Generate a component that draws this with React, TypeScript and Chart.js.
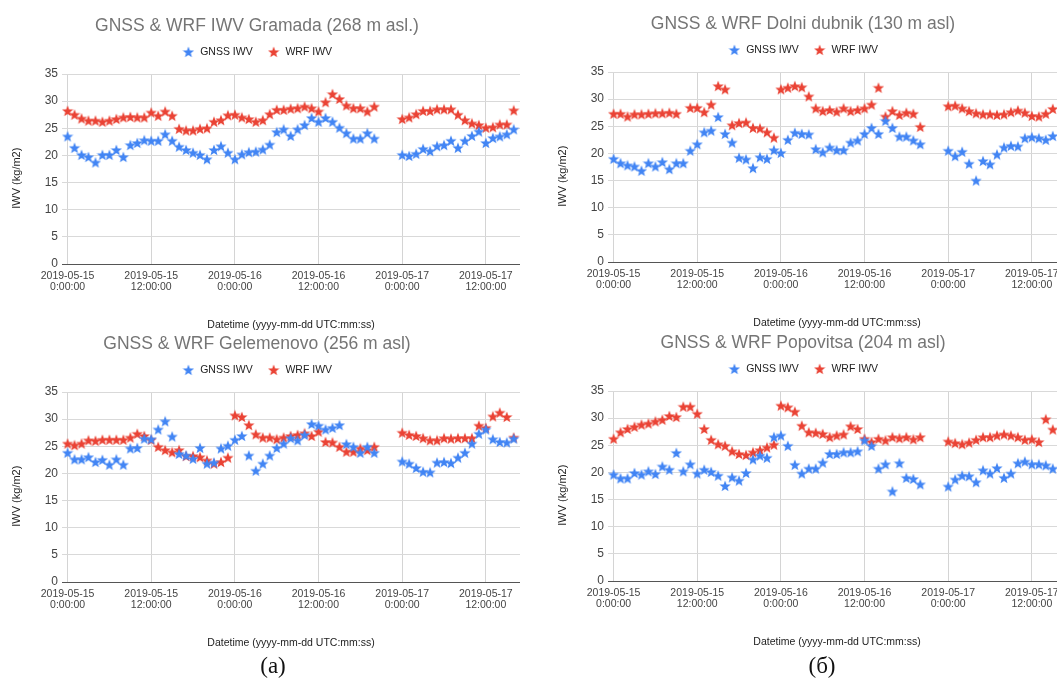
import React, { useEffect, useRef } from "react";
import { Chart, registerables } from "chart.js";

Chart.register(...registerables);

// Hours since 2019-05-15 00:00 UTC
const hours = [
  0, 1, 2, 3, 4, 5, 6, 7, 8, 9, 10, 11, 12, 13, 14, 15, 16, 17, 18, 19, 20, 21, 22, 23, 24, 25, 26, 27, 28, 29, 30, 31,
  32, 33, 34, 35, 36, 37, 38, 39, 40, 41, 42, 43, 44, 45, 46, 47, 48, 49, 50, 51, 52, 53, 54, 55, 56, 57, 58, 59, 60,
  61, 62, 63, 64,
];

const tickHours = [0, 12, 24, 36, 48, 60];
const tickLabels = [
  ["2019-05-15", "0:00:00"],
  ["2019-05-15", "12:00:00"],
  ["2019-05-16", "0:00:00"],
  ["2019-05-16", "12:00:00"],
  ["2019-05-17", "0:00:00"],
  ["2019-05-17", "12:00:00"],
];
const yTicks = [0, 5, 10, 15, 20, 25, 30, 35];

const seriesNames = ["GNSS IWV", "WRF IWV"];
const xTitle = "Datetime (yyyy-mm-dd UTC:mm:ss)";
const yTitle = "IWV (kg/m2)";

// (a) Gramada
const gramadaGnss = [
  23.5, 21.4, 20.1, 19.7, 18.7, 20.1, 20.1, 21.0, 19.7, 21.9,
  22.3, 22.8, 22.7, 22.7, 23.9, 22.7, 21.6, 21.0, 20.5, 20.1,
  19.3, 21.0, 21.7, 20.5, 19.3, 20.2, 20.6, 20.7, 21.1, 22.0,
  24.3, 24.8, 23.6, 24.8, 25.6, 26.9, 26.2, 26.9, 26.2, 25.1,
  24.1, 23.1, 23.1, 24.1, 23.1, null, null, null,
  20.1, 19.9, 20.3, 21.2, 20.8, 21.7, 21.9, 22.7, 21.4, 22.7,
  23.6, 24.4, 22.3, 23.2, 23.5, 23.9, 24.8,
];
const gramadaWrf = [
  28.2, 27.5, 26.8, 26.4, 26.4, 26.2, 26.4, 26.7, 27.0, 27.1,
  27.0, 27.0, 27.9, 27.3, 28.1, 27.3, 24.9, 24.6, 24.6, 24.9,
  25.0, 26.2, 26.5, 27.4, 27.5, 27.0, 26.7, 26.2, 26.5, 27.6,
  28.4, 28.4, 28.6, 28.7, 29.0, 28.7, 28.1, 29.8, 31.3, 30.4,
  29.2, 28.7, 28.7, 28.1, 29.0, null, null, null,
  26.7, 27.0, 27.6, 28.2, 28.2, 28.5, 28.5, 28.5, 27.5, 26.5,
  25.9, 25.6, 25.1, 25.2, 25.7, 25.7, 28.3,
];

// (b) Dolni dubnik
const dubnikGnss = [
  19.0, 18.2, 17.8, 17.6, 16.8, 18.2, 17.6, 18.4, 17.1, 18.2,
  18.2, 20.5, 21.7, 23.9, 24.2, 26.7, 23.6, 22.0, 19.2, 18.9,
  17.3, 19.3, 19.0, 20.6, 20.1, 22.5, 23.8, 23.6, 23.5, 20.8,
  20.2, 21.1, 20.6, 20.6, 22.0, 22.4, 23.6, 24.7, 23.6, 26.0,
  24.7, 23.1, 23.1, 22.4, 21.7, null, null, null,
  20.5, 19.5, 20.3, 18.1, 15.0, 18.6, 18.0, 19.8, 21.1, 21.4,
  21.3, 22.8, 23.0, 22.8, 22.5, 23.2, null,
];
const dubnikWrf = [
  27.3, 27.3, 26.8, 27.2, 27.2, 27.3, 27.4, 27.4, 27.5, 27.3,
  null, 28.4, 28.4, 27.6, 29.0, 32.4, 31.8, 25.2, 25.6, 25.7,
  24.7, 24.6, 23.9, 22.9, 31.8, 32.1, 32.4, 32.2, 30.5, 28.3,
  27.8, 28.0, 27.7, 28.3, 27.8, 28.0, 28.3, 29.0, 32.1, 26.8,
  27.8, 27.1, 27.5, 27.3, 24.9, null, null, null,
  28.7, 28.8, 28.3, 27.8, 27.4, 27.2, 27.2, 27.1, 27.2, 27.6,
  27.9, 27.5, 26.9, 26.8, 27.3, 28.2, null,
];

// (c) Gelemenovo
const gelemenovoGnss = [
  23.8, 22.6, 22.6, 23.0, 22.1, 22.5, 21.6, 22.6, 21.6, 24.6,
  24.7, 26.4, 26.3, 28.1, 29.6, 26.8, 23.6, 23.3, 22.7, 24.7,
  21.8, 22.0, 24.6, 25.1, 26.2, 26.9, 23.3, 20.5, 21.8, 23.3,
  24.7, 25.5, 26.5, 26.1, 27.1, 29.1, 28.8, 28.1, 28.4, 28.9,
  25.4, 24.9, 23.8, 24.9, 23.8, null, null, null,
  22.2, 21.8, 21.0, 20.3, 20.2, 22.0, 22.1, 21.9, 22.9, 23.8,
  25.5, 27.3, 28.1, 26.3, 25.8, 25.7, 26.4,
];
const gelemenovoWrf = [
  25.5, 25.2, 25.5, 26.1, 26.0, 26.2, 26.2, 26.2, 26.2, 26.6,
  27.3, 26.9, 26.2, 24.9, 24.3, 23.9, 24.3, 23.2, 23.2, 23.0,
  22.4, 21.8, 22.1, 22.9, 30.7, 30.4, 28.9, 27.2, 26.6, 26.6,
  26.3, 26.6, 26.9, 27.1, 27.4, 26.9, 27.7, 25.8, 25.7, 24.9,
  24.0, 24.0, 24.6, 24.3, 24.9, null, null, null,
  27.5, 27.1, 26.9, 26.5, 26.1, 26.1, 26.5, 26.4, 26.5, 26.5,
  26.5, 28.8, 28.4, 30.5, 31.2, 30.4, 26.6,
];

// (d) Popovitsa
const popovitsaGnss = [
  19.6, 18.9, 18.9, 19.9, 19.6, 20.2, 19.7, 21.1, 20.5, 23.6,
  20.2, 21.5, 19.8, 20.5, 20.1, 19.4, 17.5, 19.1, 18.5, 19.9,
  22.4, 23.1, 22.7, 26.5, 26.8, 24.9, 21.4, 19.8, 20.7, 20.7,
  21.8, 23.4, 23.4, 23.7, 23.7, 23.9, 25.9, 24.9, 20.7, 21.5,
  16.5, 21.7, 19.0, 18.8, 17.8, null, null, null,
  17.4, 18.7, 19.4, 19.3, 18.2, 20.4, 19.8, 20.8, 19.0, 19.8,
  21.7, 22.0, 21.5, 21.5, 21.3, 20.7, null,
];
const popovitsaWrf = [
  26.2, 27.4, 28.0, 28.4, 28.8, 29.0, 29.4, 29.7, 30.4, 30.2,
  32.1, 32.1, 30.8, 28.0, 26.0, 25.2, 24.9, 23.9, 23.4, 23.2,
  23.7, 24.1, 24.6, 25.1, 32.3, 32.0, 31.2, 28.6, 27.4, 27.3,
  27.1, 26.5, 26.8, 27.0, 28.5, 28.0, 26.2, 25.6, 26.2, 25.9,
  26.5, 26.3, 26.5, 26.1, 26.5, null, null, null,
  25.7, 25.4, 25.2, 25.5, 26.0, 26.5, 26.5, 26.8, 27.0, 26.8,
  26.5, 26.0, 26.1, 25.6, 29.8, 27.9, null,
];

const FONT = "'Liberation Sans', Arial, Helvetica, sans-serif";
const BLUE = "#4285F4";
const RED = "#EA4335";

function makeStar(color: string): HTMLCanvasElement {
  const c = document.createElement("canvas");
  c.width = 12;
  c.height = 12;
  const ctx = c.getContext("2d")!;
  ctx.beginPath();
  for (let i = 0; i < 10; i++) {
    const r = i % 2 === 0 ? 5.9 : 2.5;
    const a = -Math.PI / 2 + (i * Math.PI) / 5;
    const px = 6 + r * Math.cos(a);
    const py = 6.4 + r * Math.sin(a);
    if (i === 0) ctx.moveTo(px, py);
    else ctx.lineTo(px, py);
  }
  ctx.closePath();
  ctx.fillStyle = color;
  ctx.fill();
  return c;
}

function toPoints(values: (number | null)[]) {
  const pts: { x: number; y: number }[] = [];
  values.forEach((v, i) => {
    if (v !== null && v !== undefined) pts.push({ x: hours[i], y: v });
  });
  return pts;
}

type PanelProps = {
  title: string;
  gnss: (number | null)[];
  wrf: (number | null)[];
  left: number;
  top: number;
};

const W = 530;
const H = 340;

function Panel({ title, gnss, wrf, left, top }: PanelProps) {
  const ref = useRef<HTMLCanvasElement | null>(null);
  useEffect(() => {
    if (!ref.current) return;
    const blueStar = makeStar(BLUE);
    const redStar = makeStar(RED);
    const chart = new Chart(ref.current, {
      type: "scatter",
      data: {
        datasets: [
          {
            label: seriesNames[0],
            data: toPoints(gnss),
            pointStyle: blueStar as any,
            backgroundColor: BLUE,
            borderColor: BLUE,
            xAxisID: "x",
            yAxisID: "y",
          },
          {
            label: seriesNames[1],
            data: toPoints(wrf),
            pointStyle: redStar as any,
            backgroundColor: RED,
            borderColor: RED,
            xAxisID: "x",
            yAxisID: "y",
          },
        ],
      },
      options: {
        animation: false,
        responsive: false,
        events: [],
        layout: { padding: { left: -6, right: 10, top: 0, bottom: 6 } },
        plugins: {
          title: {
            display: true,
            text: title,
            color: "#757575",
            font: { family: FONT, size: 17.5, weight: "normal" },
            padding: { top: 16, bottom: -4.75 },
          },
          legend: {
            display: true,
            position: "top",
            labels: {
              usePointStyle: true,
              pointStyleWidth: 13,
              padding: 14.5,
              color: "#222",
              font: { family: FONT, size: 10.5 },
            },
          },
          tooltip: { enabled: false },
        },
        scales: {
          x: {
            type: "linear",
            position: "bottom",
            min: -0.8,
            max: 64.9,
            afterBuildTicks: (s: any) => {
              s.ticks = tickHours.map((v) => ({ value: v }));
            },
            afterFit: (s: any) => {
              s.height = 70;
            },
            ticks: {
              autoSkip: false,
              maxRotation: 0,
              minRotation: 0,
              padding: 6.5,
              color: "#444",
              font: { family: FONT, size: 10.5, lineHeight: 1.05 },
              callback: (v: any) => {
                const idx = tickHours.indexOf(Number(v));
                return idx >= 0 ? tickLabels[idx] : "";
              },
            },
            grid: { color: "#d4d4d4", drawTicks: false },
            border: { display: false },
            title: {
              display: true,
              text: xTitle,
              color: "#222",
              font: { family: FONT, size: 10.5 },
              padding: { top: 0, bottom: 3 },
            },
          },
          y: {
            type: "linear",
            position: "left",
            min: 0,
            max: 35,
            afterBuildTicks: (s: any) => {
              s.ticks = yTicks.map((v) => ({ value: v }));
            },
            afterFit: (s: any) => {
              s.width = 68;
            },
            ticks: {
              padding: 4,
              color: "#444",
              font: { family: FONT, size: 12 },
            },
            grid: {
              color: (ctx: any) => (ctx.tick && ctx.tick.value === 0 ? "#555" : "#d9d9d9"),
              drawTicks: false,
            },
            border: { display: false },
            title: {
              display: true,
              text: yTitle + "      ",
              color: "#222",
              font: { family: FONT, size: 11 },
              padding: { top: 16.6, bottom: 0 },
            },
          },
          spacer: {
            type: "linear",
            position: "top",
            display: true,
            ticks: { display: false },
            grid: { display: false, drawTicks: false },
            border: { display: false },
            afterFit: (s: any) => {
              s.height = 6.75;
            },
          },
        },
      } as any,
    });
    return () => chart.destroy();
  }, [title, gnss, wrf]);

  return (
    <canvas
      ref={ref}
      width={W}
      height={H}
      style={{ position: "absolute", left, top, width: W, height: H }}
    />
  );
}

export default function App() {
  return (
    <div
      style={{
        position: "absolute",
        left: 0,
        top: 0,
        width: 1057,
        height: 684,
        overflow: "hidden",
        background: "#fff",
      }}
    >
      <Panel title="GNSS & WRF IWV Gramada (268 m asl.)" gnss={gramadaGnss} wrf={gramadaWrf} left={0} top={0} />
      <Panel title="GNSS & WRF Dolni dubnik (130 m asl)" gnss={dubnikGnss} wrf={dubnikWrf} left={546} top={-2} />
      <Panel title="GNSS & WRF Gelemenovo (256 m asl)" gnss={gelemenovoGnss} wrf={gelemenovoWrf} left={0} top={318} />
      <Panel title="GNSS & WRF Popovitsa (204 m asl)" gnss={popovitsaGnss} wrf={popovitsaWrf} left={546} top={317} />
      <div
        style={{
          position: "absolute",
          left: 223,
          width: 100,
          top: 653,
          textAlign: "center",
          fontFamily: "'Liberation Serif', 'DejaVu Serif', serif",
          fontSize: 23,
          color: "#111",
        }}
      >
        (a)
      </div>
      <div
        style={{
          position: "absolute",
          left: 772,
          width: 100,
          top: 653,
          textAlign: "center",
          fontFamily: "'Liberation Serif', 'DejaVu Serif', serif",
          fontSize: 23,
          color: "#111",
        }}
      >
        (б)
      </div>
    </div>
  );
}
